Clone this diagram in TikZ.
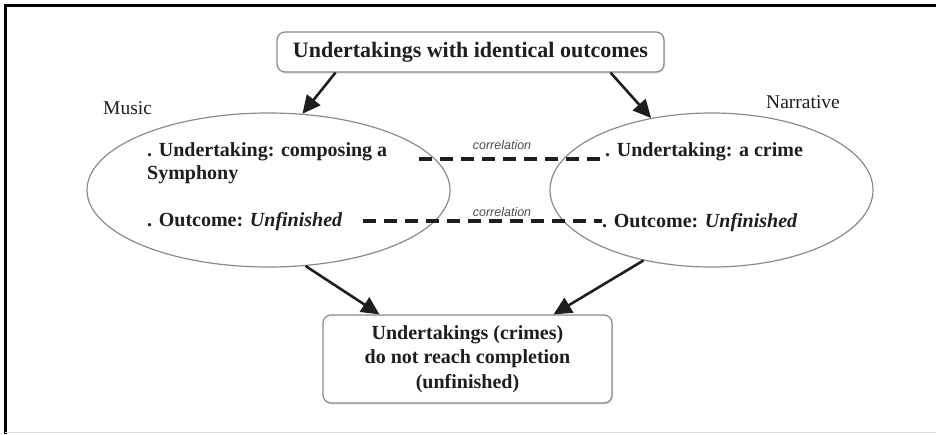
\documentclass[tikz,border=0pt]{standalone}
\usepackage{fontspec}
\setmainfont{Liberation Serif}
\newfontfamily\corrfont{Liberation Sans}
\usetikzlibrary{arrows.meta,shapes.geometric,shadows}
\definecolor{ink}{HTML}{1E1E1E}
\definecolor{rim}{HTML}{8A8A8A}
\tikzset{
  frameline/.style={line width=3pt,black},
  roundbox/.style={draw=rim,line width=1.2pt,rounded corners=8pt,fill=white,
    drop shadow={shadow xshift=1pt,shadow yshift=-1.5pt,opacity=0.25},
    align=center,text=ink,font=\bfseries\fontsize{20}{24.5}\selectfont,inner sep=0pt},
  oval/.style={draw=rim,line width=1.2pt,ellipse,inner sep=0pt},
  item/.style={anchor=west,inner sep=0pt,align=left,text=ink,
    font=\bfseries\fontsize{20}{23}\selectfont},
  tag/.style={inner sep=0pt,text=ink,font=\fontsize{19.5}{22}\selectfont},
  corr/.style={inner sep=0pt,text=ink!80,font=\corrfont\itshape\fontsize{12.5}{14}\selectfont},
  flow/.style={line width=2.6pt,ink,-{Triangle[length=18pt,width=17pt]}},
  link/.style={line width=3.2pt,ink,dash pattern=on 13pt off 8pt}
}
\begin{document}
\begin{tikzpicture}[x=1pt,y=-1pt]
  \useasboundingbox (0,0) rectangle (936,434);
  % page frame
  \draw[frameline] (4,5.5) -- (936,5.5);
  \draw[frameline] (5.5,4) -- (5.5,434);
  \draw[gray!30,line width=1pt] (5,432.5) -- (936,432.5);

  % top box
  \node[roundbox,minimum width=387pt,minimum height=40pt,
        font=\bfseries\fontsize{22}{26}\selectfont] (top) at (470.5,52)
        {Undertakings with identical outcomes};

  % ellipses
  \node[oval,minimum width=363pt,minimum height=154pt] (L) at (268.5,190) {};
  \node[oval,minimum width=323pt,minimum height=154pt] (R) at (711.5,190) {};

  % side labels
  \node[tag,anchor=west] (music) at (103,108) {Music};
  \node[tag,anchor=west] (narr) at (766,102) {Narrative};

  % ellipse contents
  \node[item] (lu) at (147,163) {. Undertaking: composing a\\Symphony};
  \node[item] (lo) at (147,222) {. Outcome: \textit{Unfinished}};
  \node[item] (ru) at (605,152) {. Undertaking: a crime};
  \node[item] (ro) at (602,223) {. Outcome: \textit{Unfinished}};

  % bottom box
  \node[roundbox,minimum width=289pt,minimum height=88pt] (bot) at (467.5,359)
        {Undertakings (crimes)\\do not reach completion\\(unfinished)};

  % arrows
  \draw[flow] ([xshift=-135pt]top.south) -- (L.66);
  \draw[flow] ([xshift=140pt]top.south) -- (R.130);
  \draw[flow] (L.-64) -- ([xshift=-88pt]bot.north);
  \draw[flow] (R.-134) -- ([xshift=86pt]bot.north);

  % correlation links
  \coordinate (c1) at (419,159);
  \coordinate (c2) at (363,221);
  \draw[link] (c1) -- (c1 -| ru.west);
  \draw[link] (c2) -- (c2 -| ro.west);
  \node[corr] (k1) at (502,145) {correlation};
  \node[corr] (k2) at (502,212) {correlation};
\end{tikzpicture}
\end{document}
